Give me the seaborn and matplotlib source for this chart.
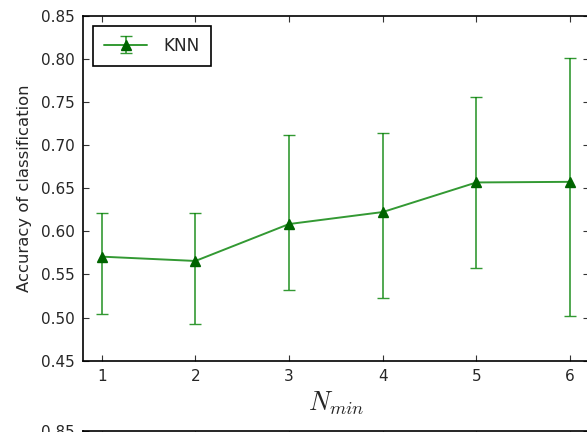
import matplotlib
matplotlib.use("Agg")
import matplotlib.pyplot as plt
import seaborn as sns

# values
n_min = [1, 2, 3, 4, 5, 6]
knn_acc = [0.5706, 0.5656, 0.6084, 0.6223, 0.6566, 0.6573]
knn_low = [0.5043, 0.4928, 0.5321, 0.5228, 0.5575, 0.5020]
knn_high = [0.6208, 0.6208, 0.7113, 0.7136, 0.7552, 0.8003]
y_ticks = [0.45, 0.50, 0.55, 0.60, 0.65, 0.70, 0.75, 0.80, 0.85]

sns.set_style("ticks")
plt.rcParams['font.family'] = ['DejaVu Sans']
plt.rcParams['mathtext.fontset'] = 'cm'
plt.rcParams['xtick.direction'] = 'in'
plt.rcParams['ytick.direction'] = 'in'
plt.rcParams['xtick.top'] = True
plt.rcParams['ytick.right'] = True

fig = plt.figure(figsize=(5.87, 4.32), dpi=100)
ax = fig.add_axes([0.1414, 0.165, 0.8617, 0.799])

yerr = [[a - l for a, l in zip(knn_acc, knn_low)],
        [h - a for a, h in zip(knn_acc, knn_high)]]
ax.errorbar(n_min, knn_acc, yerr=yerr, color=(0, 0.5, 0, 0.8),
            ecolor=(0, 0.5, 0, 0.8), marker='^', markersize=7,
            markerfacecolor='#006400', markeredgecolor='#006400',
            capsize=4, elinewidth=1.2, lw=1.4, label='KNN')

ax.set_xlim(0.8, 6.2)
ax.set_ylim(0.45, 0.85)
ax.set_xticks(n_min)
ax.set_yticks(y_ticks)
ax.set_yticklabels([f"{v:.2f}" for v in y_ticks])
ax.tick_params(labelsize=11, length=4, width=0.8, color='#333333', pad=6)
for s in ax.spines.values():
    s.set_linewidth(1.2)
    s.set_color('black')
ax.set_xlabel('$N_{min}$', fontsize=19, labelpad=4)
ax.set_ylabel('Accuracy of classification', fontsize=11.8, labelpad=6)

leg = ax.legend(loc='upper left', numpoints=1, fancybox=False, fontsize=12.2,
                handlelength=2.55, handletextpad=0.95, borderpad=0.65,
                borderaxespad=0.6, framealpha=1)
leg.get_frame().set_edgecolor('black')
leg.get_frame().set_linewidth(1.2)

# top of the next panel, cut by the figure edge
ax2 = fig.add_axes([0.1414, (432 - 430.5 - 345.2) / 432, 0.8617, 0.799])
ax2.set_xlim(0.8, 6.2)
ax2.set_ylim(0.45, 0.85)
ax2.set_xticks(n_min)
ax2.set_xticklabels([])
ax2.set_yticks(y_ticks)
ax2.set_yticklabels([f"{v:.2f}" for v in y_ticks])
ax2.tick_params(labelsize=11, length=4, width=0.8, color='#333333', pad=6)
for s in ax2.spines.values():
    s.set_linewidth(1.2)
    s.set_color('black')

fig.savefig('out.png', dpi=100)
